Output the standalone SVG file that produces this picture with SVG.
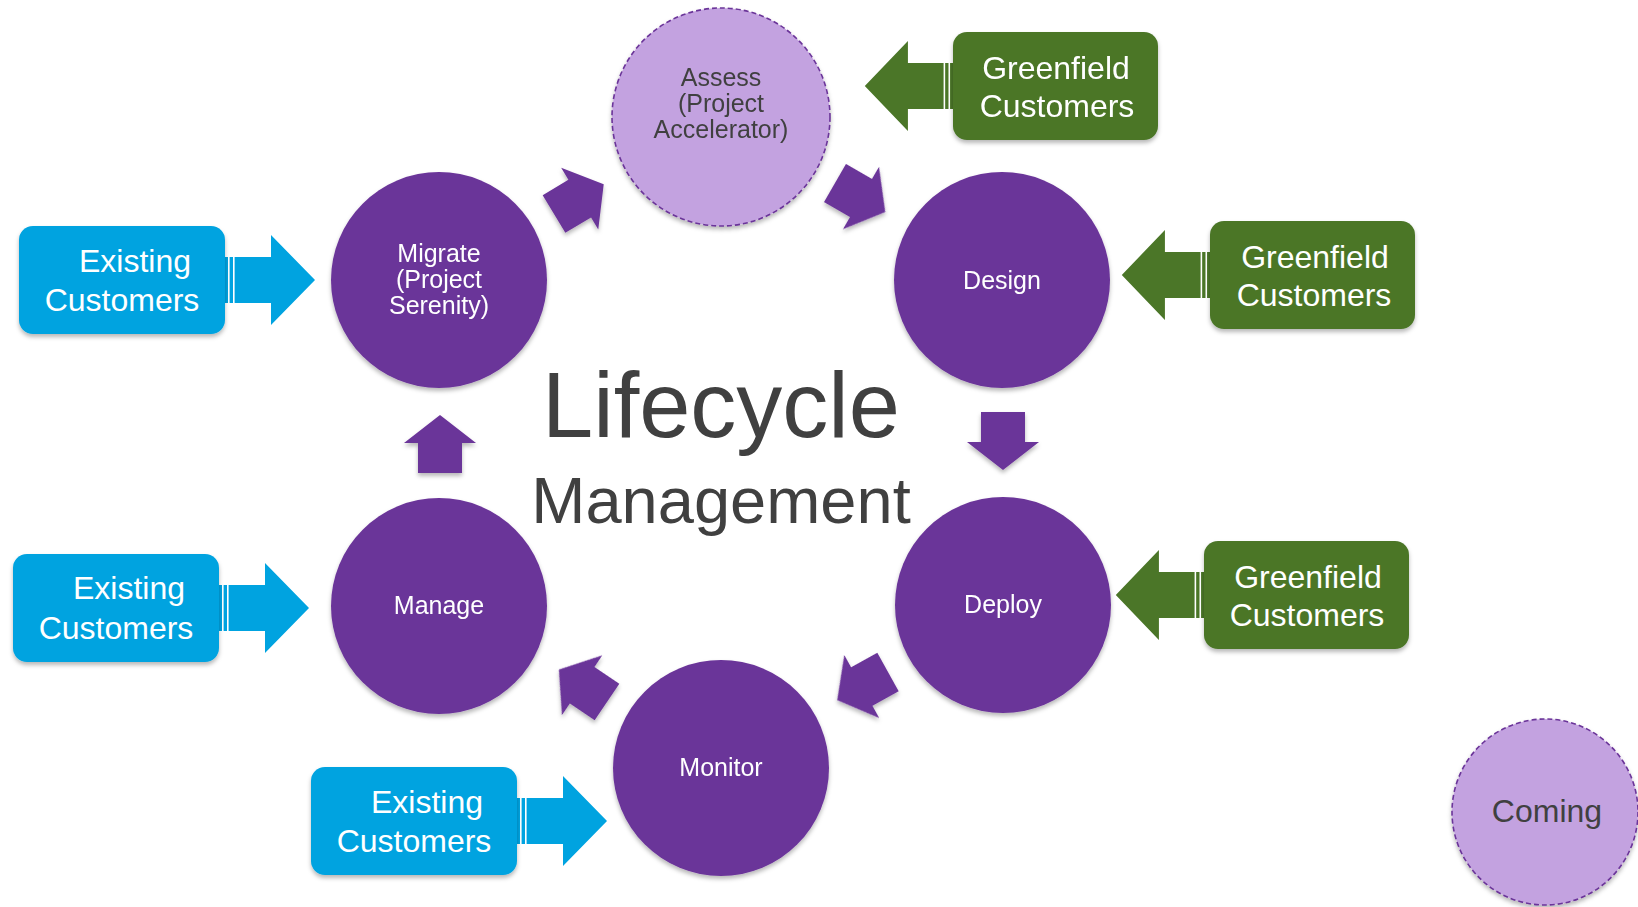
<svg xmlns="http://www.w3.org/2000/svg" xmlns:xlink="http://www.w3.org/1999/xlink" width="1638" height="907" viewBox="0 0 1638 907">
<style>
.txt{font-family:"Liberation Sans",Arial,Helvetica,sans-serif}
.main{fill:#6B3499}
.light{fill:#C3A2E0;stroke:#6B3499;stroke-width:1.6;stroke-dasharray:5 3}
.wl{fill:#FFFFFF;font-size:25px;text-anchor:middle}
.dl{fill:#404040;font-size:25px;text-anchor:middle}
.box-b{fill:#00A3E0}
.box-g{fill:#4B7628}
.bt{fill:#FFFFFF;font-size:32px;text-anchor:middle}
.conn{fill:#6B3499}
</style>
<defs>
<filter id="sh" x="-20%" y="-20%" width="140%" height="140%">
<feDropShadow dx="0" dy="3" stdDeviation="2" flood-color="#000" flood-opacity="0.28"/>
</filter>
<path id="cyc" d="M0,-22 H30 V-36 L58,0 L30,36 V22 H0 Z"/>
<g id="striped">
<path d="M0,-23 H46 V-45 L90,0 L46,45 V23 H0 Z"/>
<rect x="3" y="-23" width="1.6" height="46" fill="#FFFFFF"/>
<rect x="8" y="-23" width="1.6" height="46" fill="#FFFFFF"/>
</g>
</defs>
<rect width="1638" height="907" fill="#FFFFFF"/>

<g id="connectors">
<g class="conn" filter="url(#sh)">
<use xlink:href="#cyc" href="#cyc" transform="translate(554,214) rotate(-31)"/>
<use xlink:href="#cyc" href="#cyc" transform="translate(835,183) rotate(30)"/>
<use xlink:href="#cyc" href="#cyc" transform="translate(1003,412) rotate(90)"/>
<use xlink:href="#cyc" href="#cyc" transform="translate(888,672) rotate(151)"/>
<use xlink:href="#cyc" href="#cyc" transform="translate(607,702) rotate(-146)"/>
<use xlink:href="#cyc" href="#cyc" transform="translate(440,473) rotate(-90)"/>
</g>
<g fill="#00A3E0">
<use xlink:href="#striped" href="#striped" transform="translate(225,280)"/>
<use xlink:href="#striped" href="#striped" transform="translate(219,608)"/>
<use xlink:href="#striped" href="#striped" transform="translate(517,821)"/>
</g>
<g fill="#4B7628">
<use xlink:href="#striped" href="#striped" transform="translate(953,86) scale(-0.98,1)"/>
<use xlink:href="#striped" href="#striped" transform="translate(1210,275) scale(-0.98,1)"/>
<use xlink:href="#striped" href="#striped" transform="translate(1204,595) scale(-0.98,1)"/>
</g>
</g>

<g id="title" class="txt" fill="#404040" text-anchor="middle">
<text x="721" y="437" font-size="92">Lifecycle</text>
<text x="721" y="523" font-size="65">Management</text>
</g>

<g id="assess">
<circle class="light" cx="721" cy="117" r="109" filter="url(#sh)"/>
<text class="txt dl" x="721" y="86">Assess</text>
<text class="txt dl" x="721" y="112">(Project</text>
<text class="txt dl" x="721" y="138">Accelerator)</text>
</g>
<g id="design">
<circle class="main" cx="1002" cy="280" r="108" filter="url(#sh)"/>
<text class="txt wl" x="1002" y="289">Design</text>
</g>
<g id="deploy">
<circle class="main" cx="1003" cy="605" r="108" filter="url(#sh)"/>
<text class="txt wl" x="1003" y="613">Deploy</text>
</g>
<g id="monitor">
<circle class="main" cx="721" cy="768" r="108" filter="url(#sh)"/>
<text class="txt wl" x="721" y="776">Monitor</text>
</g>
<g id="manage">
<circle class="main" cx="439" cy="606" r="108" filter="url(#sh)"/>
<text class="txt wl" x="439" y="614">Manage</text>
</g>
<g id="migrate">
<circle class="main" cx="439" cy="280" r="108" filter="url(#sh)"/>
<text class="txt wl" x="439" y="262">Migrate</text>
<text class="txt wl" x="439" y="288">(Project</text>
<text class="txt wl" x="439" y="314">Serenity)</text>
</g>
<g id="coming">
<circle class="light" cx="1545" cy="812" r="93" filter="url(#sh)"/>
<text class="txt" x="1547" y="822" font-size="32" fill="#404040" text-anchor="middle">Coming</text>
</g>

<g id="existing1">
<rect class="box-b" x="19" y="226" width="206" height="108" rx="14" filter="url(#sh)"/>
<text class="txt bt" x="135" y="272">Existing</text>
<text class="txt bt" x="122" y="311">Customers</text>
</g>
<g id="existing2">
<rect class="box-b" x="13" y="554" width="206" height="108" rx="14" filter="url(#sh)"/>
<text class="txt bt" x="129" y="599">Existing</text>
<text class="txt bt" x="116" y="639">Customers</text>
</g>
<g id="existing3">
<rect class="box-b" x="311" y="767" width="206" height="108" rx="14" filter="url(#sh)"/>
<text class="txt bt" x="427" y="813">Existing</text>
<text class="txt bt" x="414" y="852">Customers</text>
</g>

<g id="greenfield1">
<rect class="box-g" x="953" y="32" width="205" height="108" rx="14" filter="url(#sh)"/>
<text class="txt bt" x="1056" y="79">Greenfield</text>
<text class="txt bt" x="1057" y="117">Customers</text>
</g>
<g id="greenfield2">
<rect class="box-g" x="1210" y="221" width="205" height="108" rx="14" filter="url(#sh)"/>
<text class="txt bt" x="1315" y="268">Greenfield</text>
<text class="txt bt" x="1314" y="306">Customers</text>
</g>
<g id="greenfield3">
<rect class="box-g" x="1204" y="541" width="205" height="108" rx="14" filter="url(#sh)"/>
<text class="txt bt" x="1308" y="588">Greenfield</text>
<text class="txt bt" x="1307" y="626">Customers</text>
</g>
</svg>
